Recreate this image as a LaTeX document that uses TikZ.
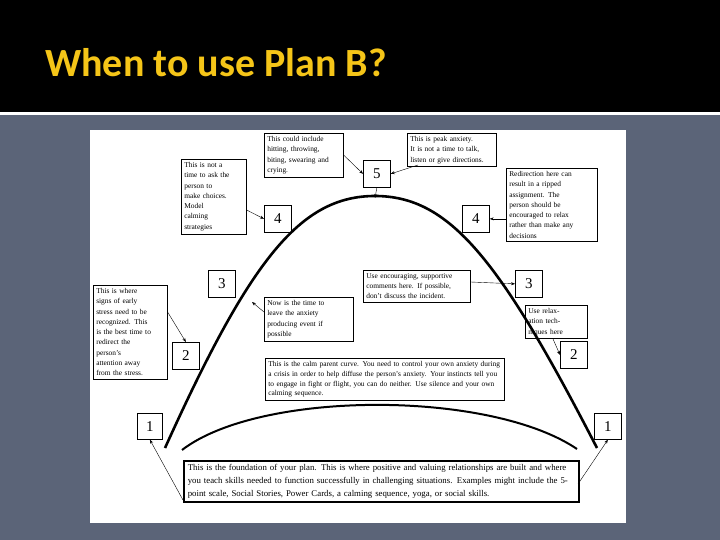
\documentclass[tikz,border=0pt]{standalone}
\usepackage{fontspec}
\setmainfont{Liberation Serif}
\newfontfamily\titlefont{Carlito}
\usetikzlibrary{arrows.meta}
\definecolor{slate}{HTML}{5B6478}
\definecolor{ttl}{HTML}{F5C518}
\begin{document}
\begin{tikzpicture}[x=1pt,y=-1pt,
  tbox/.style={draw,line width=0.6pt,anchor=north west,align=left,inner sep=3pt,font=\fontsize{7.4}{10.3}\selectfont},
  nbox/.style={draw,line width=0.7pt,anchor=north west,minimum width=27pt,minimum height=27pt,inner sep=0pt,font=\fontsize{15}{15}\selectfont},
  arr/.style={-{Stealth[length=4pt,width=3pt]},line width=0.4pt},
  curve/.style={line width=2.6pt}]
\useasboundingbox (0,0) rectangle (720,540);
\fill[slate] (0,0) rectangle (720,540);
\fill[black] (0,0) rectangle (720,112);
\fill[white] (0,112) rectangle (720,115);
\node[anchor=base west,text=ttl,font=\titlefont\bfseries\fontsize{40}{40}\selectfont,inner sep=0pt] (title) at (45,77) {When to use Plan B?};
\fill[white] (90,130) rectangle (626,523);
% curves
\draw[curve] (165,448) .. controls (250,260) and (300,196) .. (375,196) .. controls (450,196) and (500,260) .. (597,448);
\draw[curve,line width=2pt] (182,450) .. controls (260,390) and (490,390) .. (577,449);
% number boxes
\node[nbox] (n5) at (363,160) {5};
\node[nbox] (n4l) at (264,205) {4};
\node[nbox] (n4r) at (462,205) {4};
\node[nbox] (n3l) at (208,270) {3};
\node[nbox] (n3r) at (515,270) {3};
\node[nbox] (n2l) at (172,342) {2};
\node[nbox] (n2r) at (560,341) {2};
\node[nbox,minimum width=25pt,minimum height=26pt] (n1l) at (137,413) {1};
\node[nbox,minimum width=27pt,minimum height=26pt] (n1r) at (594,413) {1};
% text boxes
\node[tbox,text width=73pt] (A) at (264,133) {This could include\\hitting, throwing,\\biting, swearing and\\crying.};
\node[tbox,text width=83pt] (B) at (407,133) {This is peak anxiety.\\It is not a time to talk,\\listen or give directions.};
\node[tbox,text width=59pt] (C) at (181,159) {This is not a\\time to ask the\\person to\\make choices.\\Model\\calming\\strategies};
\node[tbox,text width=85pt] (D) at (506,168) {Redirection here can\\result in a ripped\\assignment. The\\person should be\\encouraged to relax\\rather than make any\\decisions};
\node[tbox,text width=68pt] (E) at (93,285) {This is where\\signs of early\\stress need to be\\recognized. This\\is the best time to\\redirect the\\person's\\attention away\\from the stress.};
\node[tbox,text width=83pt] (F) at (264,297) {Now is the time to\\leave the anxiety\\producing event if\\possible};
\node[tbox,text width=101pt] (G) at (363,270) {Use encouraging, supportive\\comments here. If possible,\\don't discuss the incident.};
\node[tbox,text width=56pt] (H) at (525,305) {Use relax-\\ation tech-\\niques here};
\node[tbox,text width=233pt,font=\fontsize{7.4}{9.8}\selectfont] (I) at (265,358) {This is the calm parent curve. You need to control your own anxiety during a crisis in order to help diffuse the person's anxiety. Your instincts tell you to engage in fight or flight, you can do neither. Use silence and your own calming sequence.};
\node[tbox,text width=387pt,line width=1.6pt,inner sep=4pt,font=\fontsize{8.8}{12.6}\selectfont] (J) at (183,460) {This is the foundation of your plan. This is where positive and valuing relationships are built and where you teach skills needed to function successfully in challenging situations. Examples might include the 5-point scale, Social Stories, Power Cards, a calming sequence, yoga, or social skills.};
% connectors
\coordinate (peak) at (375,198);
\coordinate (onF) at (252,302);
\coordinate (bs) at (418,165);
\coordinate (hs) at (553,339);
\coordinate (jl) at (183,500);
\coordinate (jr) at (578,484);
\draw[arr] (A.east |- 0,155) -- (n5.west);
\draw[arr] (bs) -- (n5.east);
\draw[arr] (n5.south) -- (peak);
\draw[arr] (C.east |- 0,210) -- (n4l.west);
\draw[arr] (D.west |- n4r) -- (n4r.east);
\draw[arr] (E.east |- 0,312) -- (n2l.north);
\draw[arr] (F.west |- 0,312) -- (onF);
\draw[arr] (G.east |- 0,282) -- (n3r.west);
\draw[arr] (hs) -- (n2r.west);
\draw[arr] (jl) -- (n1l.south);
\draw[arr] (jr) -- (n1r.south);
\end{tikzpicture}
\end{document}
